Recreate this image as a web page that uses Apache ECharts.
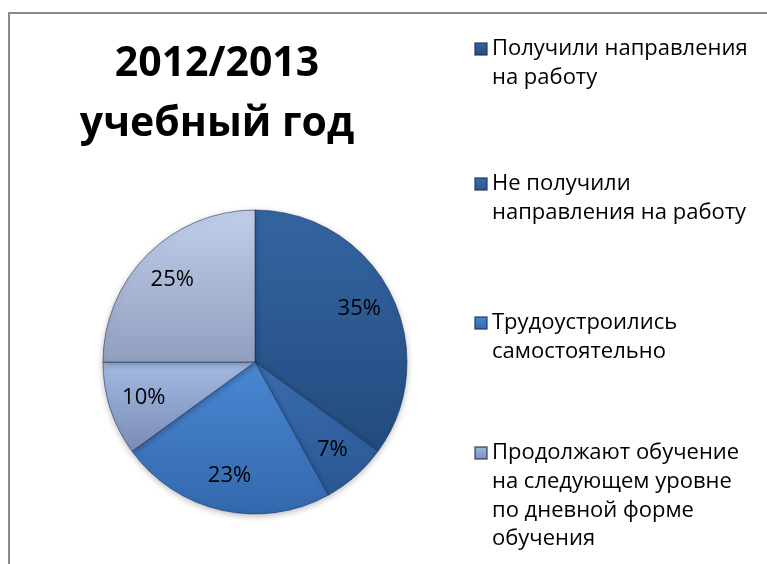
<!DOCTYPE html>
<html>
<head>
<meta charset="utf-8">
<style>
  html, body { margin: 0; padding: 0; background: #ffffff; }
  #chart { width: 767px; height: 564px; }
</style>
<script src="https://cdn.jsdelivr.net/npm/echarts@6/dist/echarts.min.js"></script>
</head>
<body>
<div id="chart"></div>
<script>
// Distribution of graduates, 2012/2013 academic year
const titleLines = ['2012/2013', 'учебный год'];
const categories = [
  'Получили направления на работу',
  'Не получили направления на работу',
  'Трудоустроились самостоятельно',
  'Продолжают обучение на следующем уровне по дневной форме обучения',
  ''
];
const shares = [35, 7, 23, 10, 25];
const legendLines = [
  ['Получили направления', 'на работу'],
  ['Не получили', 'направления на работу'],
  ['Трудоустроились', 'самостоятельно'],
  ['Продолжают обучение', 'на следующем уровне', 'по дневной форме', 'обучения']
];

// Beveled-looking fills: lighter at the top, darker at the bottom
const fills = [
  ['#3466a2', '#234a7e'],
  ['#3a6db0', '#2a5793'],
  ['#4a88d4', '#3368ad'],
  ['#a3bae3', '#7a8cb6'],
  ['#c0cee9', '#919fbf']
];
function grad(c) {
  return new echarts.graphic.LinearGradient(0, 0, 0, 1, [
    { offset: 0, color: c[0] },
    { offset: 1, color: c[1] }
  ]);
}

const FONT = 'Open Sans';
const LH = 28.7;
const legendCenters = [49, 184, 323, 453];

const chart = echarts.init(document.getElementById('chart'), null, { renderer: 'canvas' });

const pieData = categories.map((name, i) => ({
  name: name,
  value: shares[i],
  itemStyle: { color: grad(fills[i]) }
}));

// The legend text block is centred on its marker, so blank lines are put
// in front to keep the first line level with the marker.
const legends = legendLines.map((lines, i) => {
  const n = lines.length;
  const padded = new Array(n - 1).fill('').concat(lines);
  return {
    orient: 'vertical',
    left: 474,
    top: legendCenters[i] - ((2 * n - 1) * LH) / 2,
    padding: 0,
    itemWidth: 12,
    itemHeight: 12,
    itemGap: 0,
    icon: 'rect',
    selectedMode: false,
    data: [categories[i]],
    formatter: () => padded.join('\n'),
    textStyle: {
      fontFamily: FONT,
      fontSize: 22,
      lineHeight: LH,
      color: '#000000'
    }
  };
});

chart.setOption({
  backgroundColor: '#ffffff',
  animation: false,
  title: {
    text: titleLines.join('\n'),
    left: 217,
    top: 34,
    padding: 0,
    textAlign: 'center',
    textStyle: {
      fontFamily: FONT,
      fontSize: 41,
      fontWeight: 'bold',
      lineHeight: 60,
      color: '#000000'
    }
  },
  legend: legends,
  graphic: [{
    type: 'rect',
    silent: true,
    shape: { x: 9, y: 13, width: 820, height: 620 },
    style: { fill: 'none', stroke: '#8a8a8a', lineWidth: 2 }
  }],
  series: [
    {
      type: 'pie',
      center: [255, 362],
      radius: [0, 152],
      startAngle: 90,
      clockwise: true,
      silent: true,
      label: { show: false },
      labelLine: { show: false },
      itemStyle: {
        borderColor: 'rgba(25, 45, 85, 0.55)',
        borderWidth: 1,
        shadowBlur: 6,
        shadowOffsetY: 2,
        shadowColor: 'rgba(0, 0, 0, 0.25)'
      },
      data: pieData
    },
    {
      // transparent ring that carries the percentage labels
      type: 'pie',
      center: [255, 362],
      radius: [76, 152],
      startAngle: 90,
      clockwise: true,
      silent: true,
      itemStyle: { color: 'rgba(0,0,0,0)' },
      label: {
        show: true,
        position: 'inside',
        formatter: '{c}%',
        fontFamily: FONT,
        fontSize: 22,
        color: '#000000'
      },
      labelLine: { show: false },
      data: categories.map((name, i) => ({ name: name, value: shares[i] }))
    }
  ]
});
</script>
</body>
</html>
